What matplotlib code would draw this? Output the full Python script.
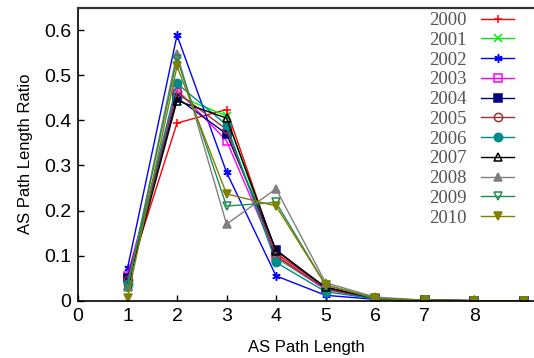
import matplotlib
matplotlib.use('Agg')
import matplotlib.pyplot as plt

# AS path length distribution per year
lengths = [1, 2, 3, 4, 5, 6, 7, 8, 9]
years = ['2000', '2001', '2002', '2003', '2004', '2005',
         '2006', '2007', '2008', '2009', '2010']

r2000 = [0.050, 0.394, 0.424, 0.105, 0.030, 0.005, 0.001, 0.0, 0.0]
r2001 = [0.045, 0.455, 0.410, 0.095, 0.025, 0.004, 0.001, 0.0, 0.0]
r2002 = [0.072, 0.589, 0.285, 0.055, 0.012, 0.003, 0.001, 0.0, 0.0]
r2003 = [0.055, 0.468, 0.355, 0.098, 0.025, 0.004, 0.001, 0.0, 0.0]
r2004 = [0.050, 0.450, 0.370, 0.113, 0.028, 0.004, 0.001, 0.0, 0.0]
r2005 = [0.045, 0.462, 0.380, 0.100, 0.027, 0.004, 0.001, 0.0, 0.0]
r2006 = [0.038, 0.482, 0.390, 0.085, 0.020, 0.004, 0.001, 0.0, 0.0]
r2007 = [0.032, 0.444, 0.405, 0.111, 0.030, 0.005, 0.001, 0.0, 0.0]
r2008 = [0.030, 0.548, 0.170, 0.248, 0.040, 0.008, 0.001, 0.0, 0.0]
r2009 = [0.028, 0.537, 0.210, 0.218, 0.035, 0.006, 0.001, 0.0, 0.0]
r2010 = [0.006, 0.520, 0.237, 0.210, 0.035, 0.005, 0.001, 0.0, 0.0]

series = [r2000, r2001, r2002, r2003, r2004, r2005,
          r2006, r2007, r2008, r2009, r2010]

colors = ['#ff0000', '#00ee00', '#0000ff', '#ff00ff', '#000080', '#993333',
          '#008b8b', '#000000', '#808080', '#228b55', '#808000']
markers = ['+', 'x', (6, 2, 0), 's', 's', 'o', 'o', '^', '^', 'v', 'v']
filled = [True, True, True, False, True, False, True, False, True, False, True]

fig = plt.figure(figsize=(5.34, 3.58), dpi=100)
ax = fig.add_axes([78 / 534, 1 - 300.7 / 358, 456 / 534, 293 / 358])

for yr, vals, c, m, f in zip(years, series, colors, markers, filled):
    ax.plot(lengths, vals, color=c, marker=m, markersize=6, linewidth=1,
            markerfacecolor=c if f else 'none', markeredgecolor=c,
            markeredgewidth=1.1, label=yr)

ax.set_xlim(0, 9.21)
ax.set_ylim(0, 0.65)
ax.set_xticks(range(0, 9))
ax.set_yticks([0, 0.1, 0.2, 0.3, 0.4, 0.5, 0.6])
ax.set_yticklabels(['0', '0.1', '0.2', '0.3', '0.4', '0.5', '0.6'])

for lab in ax.get_xticklabels() + ax.get_yticklabels():
    lab.set_family('Liberation Sans')
    lab.set_fontsize(14)
ax.tick_params(direction='in', length=4, width=1, pad=5)

ax.spines['right'].set_visible(False)
ax.spines['top'].set_color('#333333')
ax.spines['top'].set_linewidth(1.6)
ax.spines['left'].set_linewidth(1.2)
ax.spines['bottom'].set_linewidth(1.2)

ax.set_xlabel('AS Path Length', family='Liberation Sans', fontsize=12, labelpad=11)
ax.set_ylabel('AS Path Length Ratio', family='Liberation Sans', fontsize=12, labelpad=8)

leg = ax.legend(loc='upper right', bbox_to_anchor=(514 / 534, 1 - 12 / 358),
                bbox_transform=fig.transFigure, frameon=False, markerfirst=False,
                prop={'family': 'Liberation Serif', 'size': 13.5},
                handlelength=1.75, handletextpad=0.8, labelspacing=0.14,
                borderpad=0, borderaxespad=0)
for t in leg.get_texts():
    t.set_color('#555555')

fig.savefig('out.png', dpi=100)
